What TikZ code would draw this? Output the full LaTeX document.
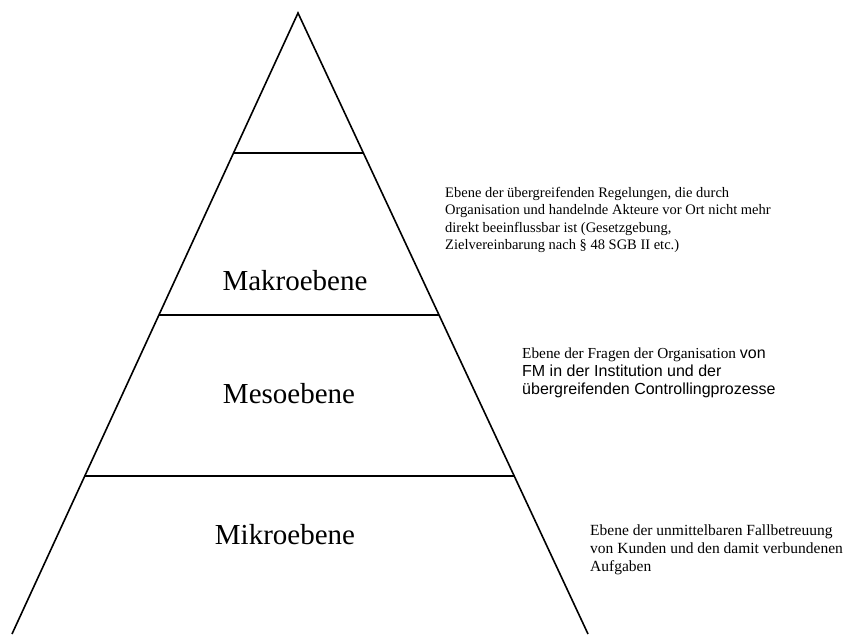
\documentclass[tikz,border=0pt]{standalone}
\usepackage{fontspec}
\setmainfont{Liberation Serif}
\setsansfont{Liberation Sans}
\usetikzlibrary{calc}
\tikzset{
  side/.style={line width=1.6pt},
  level/.style={line width=1.8pt},
  levellabel/.style={font=\fontsize{29}{33}\selectfont, anchor=base, inner sep=0pt},
  note/.style={anchor=base west, inner sep=0pt}
}
\newcommand{\sansbig}{\sffamily\fontsize{16}{18}\selectfont}
\begin{document}
\begin{tikzpicture}[x=1pt,y=-1pt]
\useasboundingbox (0,0) rectangle (850,634);
\coordinate (apex) at (298,13);
\coordinate (bl) at (12,634);
\coordinate (br) at (588,634);
\draw[side] (bl) -- (apex) -- (br);
\coordinate (l1) at ($(apex)!0.2254!(bl)$);
\coordinate (r1) at ($(apex)!0.2254!(br)$);
\coordinate (l2) at ($(apex)!0.4863!(bl)$);
\coordinate (r2) at ($(apex)!0.4863!(br)$);
\coordinate (l3) at ($(apex)!0.7456!(bl)$);
\coordinate (r3) at ($(apex)!0.7456!(br)$);
\draw[level] (l1) -- (r1);
\draw[level] (l2) -- (r2);
\draw[level] (l3) -- (r3);
\node[levellabel] (makro) at (295,290) {Makroebene};
\node[levellabel] (meso) at (289,403) {Mesoebene};
\node[levellabel] (mikro) at (285,544) {Mikroebene};
\node[note] (n1) at (445,197) {\fontsize{14.5}{17.5}\selectfont\begin{tabular}[t]{@{}l@{}}Ebene der übergreifenden Regelungen, die durch\\Organisation und handelnde Akteure vor Ort nicht mehr\\direkt beeinflussbar ist (Gesetzgebung,\\Zielvereinbarung nach § 48 SGB II etc.)\end{tabular}};
\node[note] (n2) at (522,358) {\fontsize{15.3}{18}\selectfont\begin{tabular}[t]{@{}l@{}}Ebene der Fragen der Organisation {\sansbig von}\\\sansbig FM in der Institution und der\\\sansbig übergreifenden Controllingprozesse\end{tabular}};
\node[note] (n3) at (590,535) {\fontsize{15.5}{18}\selectfont\begin{tabular}[t]{@{}l@{}}Ebene der unmittelbaren Fallbetreuung\\von Kunden und den damit verbundenen\\Aufgaben\end{tabular}};
\end{tikzpicture}
\end{document}
